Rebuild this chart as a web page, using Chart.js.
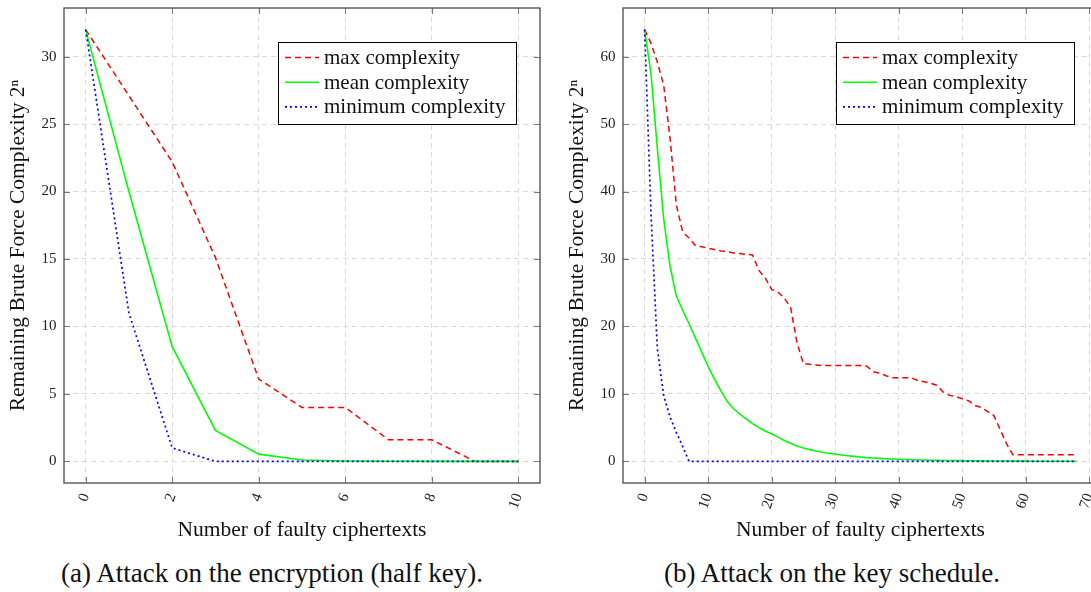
<!DOCTYPE html>
<html>
<head>
<meta charset="utf-8">
<script src="https://cdn.jsdelivr.net/npm/chart.js@4.4.1/dist/chart.umd.min.js"></script>
<style>
  html, body { margin: 0; padding: 0; background: #fff; }
  #page { position: relative; width: 1091px; height: 592px; overflow: hidden; }
  canvas { position: absolute; top: 0; }
  #chartA { left: 0; }
  #chartB { left: 559px; }
  .caption {
    position: absolute; top: 560px;
    font-family: "Liberation Serif", serif; font-size: 27px; line-height: 27px;
    color: #111; white-space: nowrap; transform: translateX(-50%);
  }
</style>
</head>
<body>
<div id="page">
  <canvas id="chartA" width="542" height="548"></canvas>
  <canvas id="chartB" width="541" height="548"></canvas>
  <div class="caption" style="left:272px">(a) Attack on the encryption (half key).</div>
  <div class="caption" style="left:832px">(b) Attack on the key schedule.</div>
</div>
<script>
// (a) attack on the encryption
const faultsA = [0, 1, 2, 3, 4, 5, 6, 7, 8, 9, 10];
const maxA  = [32, 27.1, 22.2, 15.1, 6.1, 4.0, 4.0, 1.6, 1.6, 0, 0];
const meanA = [32, 20.0, 8.5, 2.3, 0.54, 0.1, 0.03, 0.01, 0, 0, 0];
const minA  = [32, 11.0, 1.0, 0, 0, 0, 0, 0, 0, 0, 0];
const xTicksA = [0, 2, 4, 6, 8, 10];
const yTicksA = [0, 5, 10, 15, 20, 25, 30];

// (b) attack on the key schedule
const faultsB = [0, 1, 2, 3, 4, 5, 6, 7, 8, 9, 10, 11, 12, 13, 14, 15, 16, 17, 18, 19,
  20, 21, 22, 23, 24, 25, 26, 27, 28, 29, 30, 31, 32, 33, 34, 35, 36, 37, 38, 39,
  40, 41, 42, 43, 44, 45, 46, 47, 48, 49, 50, 51, 52, 53, 54, 55, 56, 57, 58, 59,
  60, 61, 62, 63, 64, 65, 66, 67, 68];
const maxB = [64, 62, 59.2, 55.8, 48, 38, 34, 33.1, 32, 31.8,
  31.6, 31.4, 31.2, 31.1, 30.9, 30.8, 30.7, 30.6, 28.3, 27.2,
  25.5, 25.1, 24.2, 22.8, 17.6, 14.5, 14.4, 14.3, 14.2, 14.2,
  14.2, 14.2, 14.2, 14.2, 14.2, 14.1, 13.3, 13.1, 12.7, 12.4,
  12.4, 12.4, 12.4, 12.0, 11.8, 11.6, 11.3, 10.3, 9.8, 9.6,
  9.3, 9.0, 8.3, 8.0, 7.4, 6.8, 4.7, 2.6, 1.0, 1.0,
  1.0, 1.0, 1.0, 1.0, 1.0, 1.0, 1.0, 1.0, 1.0];
const meanB = [64, 57.5, 46.5, 36, 29, 24.5, 22.4, 20.4, 18.3, 16.2,
  14.1, 12.2, 10.5, 8.9, 7.8, 7.0, 6.3, 5.6, 5.0, 4.5,
  4.1, 3.6, 3.1, 2.7, 2.3, 2.0, 1.75, 1.55, 1.35, 1.2,
  1.1, 0.95, 0.85, 0.75, 0.65, 0.56, 0.5, 0.45, 0.4, 0.35,
  0.31, 0.28, 0.25, 0.22, 0.2, 0.18, 0.16, 0.14, 0.13, 0.12,
  0.11, 0.1, 0.09, 0.08, 0.07, 0.06, 0.06, 0.05, 0.05, 0.04,
  0.04, 0.03, 0.03, 0.03, 0.02, 0.02, 0.02, 0.02, 0.01];
const minB = [64, 37, 16.8, 9.8, 6.6, 4.3, 2.2, 0, 0, 0,
  0, 0, 0, 0, 0, 0, 0, 0, 0, 0,
  0, 0, 0, 0, 0, 0, 0, 0, 0, 0,
  0, 0, 0, 0, 0, 0, 0, 0, 0, 0,
  0, 0, 0, 0, 0, 0, 0, 0, 0, 0,
  0, 0, 0, 0, 0, 0, 0, 0, 0, 0,
  0, 0, 0, 0, 0, 0, 0, 0, 0];
const xTicksB = [0, 10, 20, 30, 40, 50, 60, 70];
const yTicksB = [0, 10, 20, 30, 40, 50, 60];

const seriesNames = ['max complexity', 'mean complexity', 'minimum complexity'];

const SERIF = '"Liberation Serif", "Times New Roman", serif';

// frame, inner tick marks and the boxed legend, pgfplots style
const framePlugin = {
  id: 'framePlugin',
  afterDatasetsDraw(chart) {
    const { ctx, chartArea: a, scales: { x, y } } = chart;
    ctx.save();

    ctx.strokeStyle = '#7a7a7a';
    ctx.lineWidth = 1;
    ctx.setLineDash([]);
    ctx.beginPath();
    x.ticks.forEach(t => {
      const px = Math.round(x.getPixelForValue(t.value)) + 0.5;
      ctx.moveTo(px, a.bottom); ctx.lineTo(px, a.bottom - 6);
      ctx.moveTo(px, a.top); ctx.lineTo(px, a.top + 6);
    });
    y.ticks.forEach(t => {
      const py = Math.round(y.getPixelForValue(t.value)) + 0.5;
      ctx.moveTo(a.left, py); ctx.lineTo(a.left + 6, py);
      ctx.moveTo(a.right, py); ctx.lineTo(a.right - 6, py);
    });
    ctx.stroke();

    ctx.strokeStyle = '#4a4a4a';
    ctx.lineWidth = 1.3;
    ctx.strokeRect(a.left, a.top, a.right - a.left, a.bottom - a.top);

    // legend
    const w = 238, h = 82;
    const bx = a.right - 24 - w, by = a.top + 34;
    ctx.fillStyle = '#fff';
    ctx.fillRect(bx, by, w, h);
    ctx.strokeStyle = '#000';
    ctx.lineWidth = 1;
    ctx.strokeRect(bx + 0.5, by + 0.5, w, h);
    ctx.font = '21px ' + SERIF;
    ctx.textBaseline = 'middle';
    ctx.textAlign = 'left';
    chart.data.datasets.forEach((ds, i) => {
      const ry = by + 15.5 + i * 24.7;
      ctx.strokeStyle = ds.borderColor;
      ctx.lineWidth = ds.borderWidth;
      ctx.setLineDash(ds.borderDash || []);
      ctx.beginPath();
      ctx.moveTo(bx + 7, ry); ctx.lineTo(bx + 41, ry);
      ctx.stroke();
      ctx.setLineDash([]);
      ctx.fillStyle = '#111';
      ctx.fillText(ds.label, bx + 46, ry + 1);
    });
    ctx.restore();
  }
};

function makeChart(id, xs, maxV, meanV, minV, cfg) {
  const pts = vals => xs.map((v, i) => ({ x: v, y: vals[i] }));
  return new Chart(document.getElementById(id), {
    type: 'line',
    data: {
      datasets: [
        { label: seriesNames[0], data: pts(maxV), borderColor: '#ff0000', borderWidth: 1.5, borderDash: [6, 4], order: 3 },
        { label: seriesNames[1], data: pts(meanV), borderColor: '#00ff00', borderWidth: 1.6, order: 2 },
        { label: seriesNames[2], data: pts(minV), borderColor: '#0000ff', borderWidth: 1.7, borderDash: [2, 3], order: 1 }
      ]
    },
    options: {
      responsive: false,
      animation: false,
      layout: { padding: { top: 8, right: 2, left: 0, bottom: 0 } },
      elements: { point: { radius: 0 }, line: { tension: 0, fill: false } },
      plugins: { legend: { display: false }, tooltip: { enabled: false } },
      scales: {
        x: {
          type: 'linear',
          min: cfg.xMin, max: cfg.xMax,
          afterBuildTicks: s => { s.ticks = cfg.xTicks.map(v => ({ value: v })); },
          afterFit: s => { s.height = 65; s.paddingLeft = 0; s.paddingRight = 0; },
          grid: { color: '#d9d9d9', lineWidth: 1, drawTicks: false },
          border: { display: false, dash: [5, 4] },
          ticks: {
            minRotation: 70, maxRotation: 70, padding: 8,
            color: '#222', font: { family: SERIF, size: 15 }
          },
          title: {
            display: true, text: 'Number of faulty ciphertexts',
            color: '#111', font: { family: SERIF, size: 21.5 },
            padding: { top: 0, bottom: 5 }
          }
        },
        y: {
          type: 'linear',
          min: cfg.yMin, max: cfg.yMax,
          afterBuildTicks: s => { s.ticks = cfg.yTicks.map(v => ({ value: v })); },
          afterFit: s => { s.width = 64; s.paddingTop = 0; s.paddingBottom = 0; },
          grid: { color: '#d9d9d9', lineWidth: 1, drawTicks: false },
          border: { display: false, dash: [5, 4] },
          ticks: { padding: 7.5, color: '#222', font: { family: SERIF, size: 15 } },
          title: {
            display: true, text: 'Remaining Brute Force Complexity 2\u207F',
            color: '#111', font: { family: SERIF, size: 21.5 },
            padding: { top: 5, bottom: 0 }
          }
        }
      }
    },
    plugins: [framePlugin]
  });
}

makeChart('chartA', faultsA, maxA, meanA, minA,
  { xMin: -0.5, xMax: 10.5, yMin: -1.6, yMax: 33.6, xTicks: xTicksA, yTicks: yTicksA });
makeChart('chartB', faultsB, maxB, meanB, minB,
  { xMin: -3.4, xMax: 71.4, yMin: -3.2, yMax: 67.2, xTicks: xTicksB, yTicks: yTicksB });
</script>
</body>
</html>
